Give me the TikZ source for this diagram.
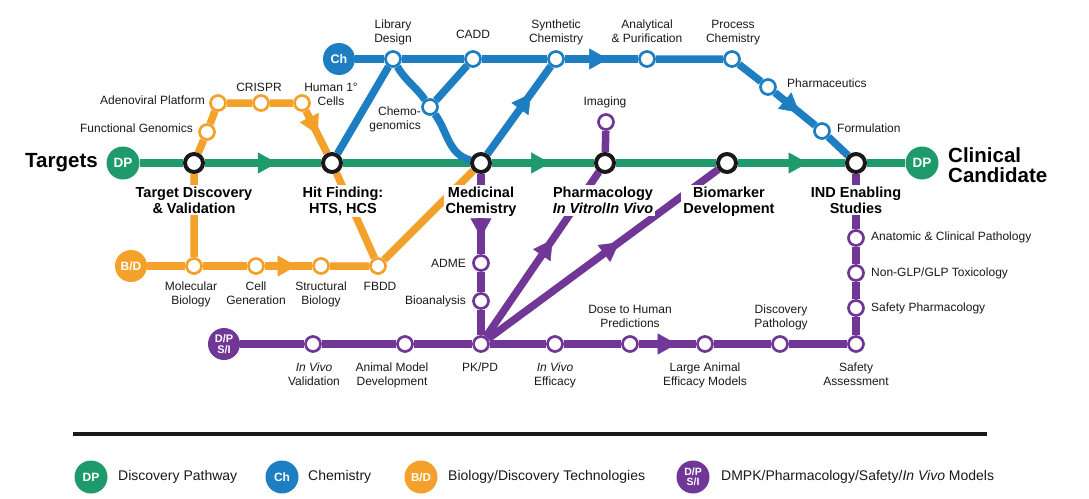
\documentclass[tikz,border=0pt]{standalone}
\usepackage{fontspec}
\setmainfont{Liberation Sans}
\usetikzlibrary{arrows.meta,decorations.markings}

\definecolor{dpgreen}{RGB}{31,154,109}
\definecolor{chblue}{RGB}{29,126,194}
\definecolor{bdorange}{RGB}{243,161,43}
\definecolor{dspurple}{RGB}{112,55,150}
\definecolor{ink}{RGB}{25,25,25}

\pgfdeclarelayer{tracks}
\pgfsetlayers{tracks,main}

\tikzset{
	stn/.style={circle,draw=#1,fill=white,line width=2.7pt,inner sep=0pt,minimum size=15pt},
	hub/.style={circle,draw=ink,fill=white,line width=4pt,inner sep=0pt,minimum size=18pt},
	endpt/.style={circle,fill=#1,text=white,inner sep=0pt,minimum size=33pt,align=center,font=\bfseries\fontsize{13.5}{13.5}\selectfont},
	lab/.style={font=\fontsize{12}{14}\selectfont,text=ink,align=center,inner sep=0pt},
	blab/.style={font=\bfseries\fontsize{14.5}{15.5}\selectfont,text=black,fill=white,align=center,inner sep=2pt},
	keytxt/.style={font=\fontsize{14}{14}\selectfont,text=ink,anchor=west,inner sep=0pt},
	track/.style={color=#1,line width=7.5pt},
	fwd/.style={postaction={decorate,decoration={markings,mark=at position #1 with {\arrow{Triangle[length=19pt,width=21pt,line width=0.5pt]}}}}},
}

\begin{document}
\begin{tikzpicture}[x=1pt,y=-1pt]
	\useasboundingbox (0,0) rectangle (1089,498);

	\node[endpt=dpgreen] (dpa) at (123,163) {DP};
	\node[hub] (tdv) at (194,163) {};
	\node[hub] (hts) at (332,163) {};
	\node[hub] (mch) at (481,163) {};
	\node[hub] (pcl) at (605,163) {};
	\node[hub] (bmk) at (727,163) {};
	\node[hub] (ind) at (856,163) {};
	\node[endpt=dpgreen] (dpb) at (922,163) {DP};

	\node[endpt=chblue,font=\bfseries\fontsize{12.5}{12.5}\selectfont,minimum size=32pt] (chs) at (339,59) {Ch};
	\node[stn=chblue] (lib) at (393,59) {};
	\node[stn=chblue] (cadd) at (473,59) {};
	\node[stn=chblue] (syn) at (556,59) {};
	\node[stn=chblue] (ana) at (647,59) {};
	\node[stn=chblue] (prc) at (732,59) {};
	\node[stn=chblue] (pht) at (768,87) {};
	\node[stn=chblue] (frm) at (822,131) {};
	\node[stn=chblue] (cgn) at (430,107) {};

	\node[endpt=bdorange,font=\bfseries\fontsize{12}{12}\selectfont,minimum size=32pt] (bds) at (131,266) {B/D};
	\node[stn=bdorange] (fgn) at (207,132) {};
	\node[stn=bdorange] (adv) at (218,103) {};
	\node[stn=bdorange] (crs) at (261,103) {};
	\node[stn=bdorange] (hum) at (302,103) {};
	\node[stn=bdorange] (mol) at (194,266) {};
	\node[stn=bdorange] (cgen) at (256,266) {};
	\node[stn=bdorange] (str) at (321,266) {};
	\node[stn=bdorange] (fbd) at (378,266) {};

	\node[endpt=dspurple,font=\bfseries\fontsize{11}{10.5}\selectfont,minimum size=32pt] (dsi) at (224,344) {D/P\\S/I};
	\node[stn=dspurple] (ivv) at (313,344) {};
	\node[stn=dspurple] (amd) at (405,344) {};
	\node[stn=dspurple] (pkpd) at (481,344) {};
	\node[stn=dspurple] (adme) at (481,263) {};
	\node[stn=dspurple] (bioa) at (481,301) {};
	\node[stn=dspurple] (ive) at (555,344) {};
	\node[stn=dspurple] (dth) at (630,344) {};
	\node[stn=dspurple] (lae) at (705,344) {};
	\node[stn=dspurple] (dpth) at (780,344) {};
	\node[stn=dspurple] (safa) at (856,344) {};
	\node[stn=dspurple] (sph) at (856,308) {};
	\node[stn=dspurple] (tox) at (856,273) {};
	\node[stn=dspurple] (anat) at (856,238) {};
	\node[stn=dspurple] (img) at (606,122) {};

	\node[font=\bfseries\fontsize{20.5}{20.5}\selectfont,inner sep=0pt,anchor=base west] (tgt) at (25,167) {Targets};
	\node[font=\bfseries\fontsize{20.5}{20}\selectfont,inner sep=0pt,align=left,anchor=north west] (ccd) at (948,147) {Clinical\\Candidate};

	\node[blab,anchor=north] (tdvl) at (194,185) {Target Discovery\\\& Validation};
	\node[blab,anchor=north] (htsl) at (343,185) {Hit Finding:\\HTS, HCS};
	\node[blab,anchor=north] (mchl) at (481,185) {Medicinal\\Chemistry};
	\node[blab,anchor=north] (pcll) at (603,185) {Pharmacology\\\textit{In Vitro}/\textit{In Vivo}};
	\node[blab,anchor=north] (bmkl) at (729,185) {Biomarker\\Development};
	\node[blab,anchor=north] (indl) at (856,185) {IND Enabling\\Studies};

	\node[lab,anchor=north] (libl) at (393,20) {Library\\Design};
	\node[lab,anchor=north] (caddl) at (473,30) {CADD};
	\node[lab,anchor=north] (synl) at (556,20) {Synthetic\\Chemistry};
	\node[lab,anchor=north] (anal) at (647,20) {Analytical\\\& Purification};
	\node[lab,anchor=north] (prcl) at (733,20) {Process\\Chemistry};
	\node[lab,anchor=west] (phtl) at (787,83) {Pharmaceutics};
	\node[lab,anchor=west] (frml) at (837,128) {Formulation};
	\node[lab,align=right,anchor=east] (cgnl) at (421,119) {Chemo-\\genomics};

	\node[lab,anchor=north] (huml) at (331,83) {Human 1°\\Cells};
	\node[lab,anchor=north] (crsl) at (259,83) {CRISPR};
	\node[lab,anchor=east] (advl) at (205,100) {Adenoviral Platform};
	\node[lab,anchor=east] (fgnl) at (193,128) {Functional Genomics};
	\node[lab,anchor=north] (moll) at (191,282) {Molecular\\Biology};
	\node[lab,anchor=north] (cgenl) at (256,282) {Cell\\Generation};
	\node[lab,anchor=north] (strl) at (321,282) {Structural\\Biology};
	\node[lab,anchor=north] (fbdl) at (380,282) {FBDD};

	\node[lab,anchor=north] (imgl) at (605,97) {Imaging};
	\node[lab,anchor=east] (admel) at (466,263) {ADME};
	\node[lab,anchor=east] (bioal) at (466,301) {Bioanalysis};
	\node[lab,anchor=north] (ivvl) at (314,363) {\textit{In Vivo}\\Validation};
	\node[lab,anchor=north] (amdl) at (392,363) {Animal Model\\Development};
	\node[lab,anchor=north] (pkpdl) at (480,363) {PK/PD};
	\node[lab,anchor=north] (ivel) at (555,363) {\textit{In Vivo}\\Efficacy};
	\node[lab,anchor=north] (dthl) at (630,305) {Dose to Human\\Predictions};
	\node[lab,anchor=north] (lael) at (705,363) {Large Animal\\Efficacy Models};
	\node[lab,anchor=north] (dpthl) at (781,305) {Discovery\\Pathology};
	\node[lab,anchor=north] (safal) at (856,363) {Safety\\Assessment};
	\node[lab,anchor=west] (anatl) at (871,237) {Anatomic \& Clinical Pathology};
	\node[lab,anchor=west] (toxl) at (871,273) {Non-GLP/GLP Toxicology};
	\node[lab,anchor=west] (sphl) at (871,308) {Safety Pharmacology};

	\begin{pgfonlayer}{tracks}
		\draw[track=dpgreen,line width=8.5pt] (dpa) -- (tdv);
		\draw[track=dpgreen,line width=8.5pt,fwd=0.62] (tdv) -- (hts);
		\draw[track=dpgreen,line width=8.5pt] (hts) -- (mch);
		\draw[track=dpgreen,line width=8.5pt,fwd=0.57] (mch) -- (pcl);
		\draw[track=dpgreen,line width=8.5pt] (pcl) -- (bmk);
		\draw[track=dpgreen,line width=8.5pt,fwd=0.65] (bmk) -- (ind);
		\draw[track=dpgreen,line width=8.5pt] (ind) -- (dpb);

		\draw[track=chblue] (chs) -- (lib) -- (cadd) -- (syn);
		\draw[track=chblue,fwd=0.59] (syn) -- (ana);
		\draw[track=chblue] (ana) -- (prc) -- (pht);
		\draw[track=chblue,fwd=0.61] (pht) -- (frm);
		\draw[track=chblue] (frm) -- (ind);
		\draw[track=chblue] (hts) -- (lib);
		\draw[track=chblue] (lib) to[out=-60,in=125] (cgn) to[out=-55,in=165] (mch);
		\draw[track=chblue] (cgn) -- (cadd);
		\draw[track=chblue,fwd=0.69] (mch) -- (syn);

		\draw[track=bdorange] (bds) -- (mol) -- (cgen);
		\draw[track=bdorange,fwd=0.67] (cgen) -- (str);
		\draw[track=bdorange] (str) -- (fbd) -- (mch);
		\draw[track=bdorange] (mol) -- (tdv) -- (fgn) -- (adv) -- (crs) -- (hum);
		\draw[track=bdorange,fwd=0.56] (hum) -- (hts);
		\draw[track=bdorange] (hts) -- (fbd);

		\draw[track=dspurple] (dsi) -- (ivv) -- (amd) -- (pkpd) -- (ive) -- (dth);
		\draw[track=dspurple,fwd=0.66] (dth) -- (lae);
		\draw[track=dspurple] (lae) -- (dpth) -- (safa) -- (sph) -- (tox) -- (anat) -- (ind);
		\draw[track=dspurple,fwd=0.79] (mch) -- (adme);
		\draw[track=dspurple] (adme) -- (bioa) -- (pkpd);
		\draw[track=dspurple,fwd=0.59] (pkpd) -- (pcl);
		\draw[track=dspurple,fwd=0.57] (pkpd) -- (bmk);
		\draw[track=dspurple] (pcl) -- (img);
	\end{pgfonlayer}

	\draw[line width=4pt,ink] (73,434) -- (987,434);

	\node[endpt=dpgreen,font=\bfseries\fontsize{12}{12}\selectfont] (kdp) at (91,477) {DP};
	\node[keytxt] (kdpl) at (118,477) {Discovery Pathway};
	\node[endpt=chblue,font=\bfseries\fontsize{12}{12}\selectfont] (kch) at (282,477) {Ch};
	\node[keytxt] (kchl) at (308,477) {Chemistry};
	\node[endpt=bdorange,font=\bfseries\fontsize{11.5}{11.5}\selectfont] (kbd) at (421,477) {B/D};
	\node[keytxt] (kbdl) at (448,477) {Biology/Discovery Technologies};
	\node[endpt=dspurple,font=\bfseries\fontsize{10.5}{10}\selectfont] (kds) at (693,477) {D/P\\S/I};
	\node[keytxt] (kdsl) at (721,477) {DMPK/Pharmacology/Safety/\textit{In Vivo} Models};
\end{tikzpicture}
\end{document}
